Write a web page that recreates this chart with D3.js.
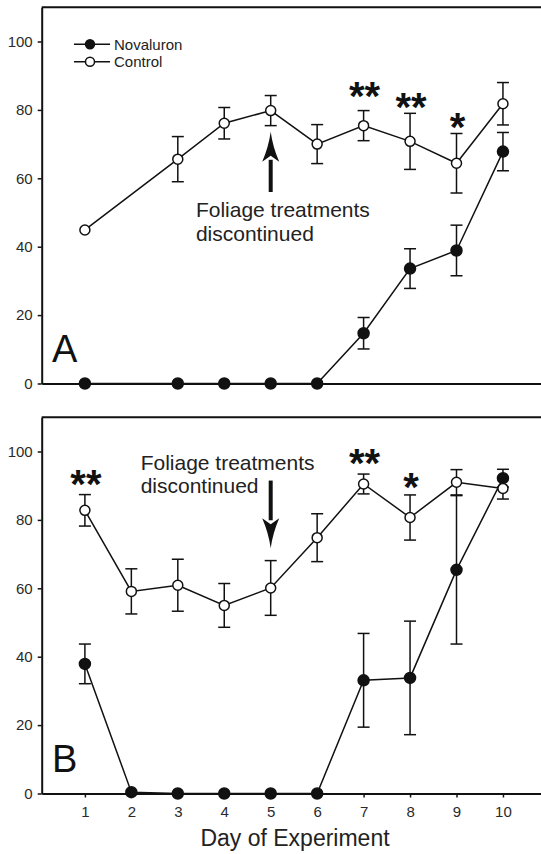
<!DOCTYPE html>
<html>
<head>
<meta charset="utf-8">
<script src="https://cdn.jsdelivr.net/npm/d3@7"></script>
<style>
  html, body { margin: 0; padding: 0; background: #fff; }
  svg { display: block; font-family: "Liberation Sans", Arial, sans-serif; }
</style>
</head>
<body>
<svg id="chart" width="541" height="854"></svg>
<script>
// ---------------- DATA ----------------
const seriesNames = ["Novaluron", "Control"];
const xTickDays = [1, 2, 3, 4, 5, 6, 7, 8, 9, 10];
const yTickValues = [0, 20, 40, 60, 80, 100];

// Panel A
const daysA = [1, 3, 4, 5, 6, 7, 8, 9, 10];
const novaluronA = [0, 0, 0, 0, 0, 14.7, 33.6, 38.9, 67.8];
const novaluronErrA = [0, 0, 0, 0, 0, 4.6, 5.8, 7.4, 5.6];
const controlA = [44.9, 65.6, 76.1, 79.8, 70.0, 75.4, 70.8, 64.4, 81.8];
const controlErrA = [0, 6.6, 4.6, 4.4, 5.7, 4.4, 8.2, 8.7, 6.2];

// Panel B
const daysB = [1, 2, 3, 4, 5, 6, 7, 8, 9, 10];
const novaluronB = [37.9, 0.4, 0, 0, 0, 0, 33.1, 33.8, 65.4, 92.2];
const novaluronErrB = [5.8, 0, 0, 0, 0, 0, 13.7, 16.6, 21.7, 2.6];
const controlB = [82.8, 59.1, 60.9, 55.0, 60.1, 74.8, 90.5, 80.7, 91.0, 89.2];
const controlErrB = [4.6, 6.6, 7.6, 6.4, 8.0, 7.0, 2.9, 6.6, 3.7, 3.1];

// Significance marks (day, value at centre of mark)
const starsA = [{ day: 7, v: 85.8, t: "**" }, { day: 8, v: 82.7, t: "**" }, { day: 9, v: 76.9, t: "*" }];
const starsB = [{ day: 1, v: 92.2, t: "**" }, { day: 7, v: 98.5, t: "**" }, { day: 8, v: 91.4, t: "*" }];

// Annotation text / arrow (in data units)
const noteLines = ["Foliage treatments", "discontinued"];
const noteA = { day: 3.39, v: [48.6, 41.8] };
const noteB = { day: 2.2, v: [94.6, 87.8] };
const arrowA = { day: 5, from: 56.0, to: 73.6 };
const arrowB = { day: 5, from: 91.5, to: 71.7 };

// ---------------- LAYOUT ----------------
const svg = d3.select("#chart");
const left = 41.7, right = 549.4;
const x = d3.scaleLinear().domain([0.07, 11]).range([left, right]);

const panels = [
  { label: "A", top: 7.3, bottom: 383.5, days: daysA, nov: novaluronA, novE: novaluronErrA, ctl: controlA, ctlE: controlErrA,
    stars: starsA, note: noteA, arrow: arrowA, xTicks: false, legend: true },
  { label: "B", top: 417.3, bottom: 793.5, days: daysB, nov: novaluronB, novE: novaluronErrB, ctl: controlB, ctlE: controlErrB,
    stars: starsB, note: noteB, arrow: arrowB, xTicks: true, legend: false }
];

const ink = "#111";

panels.forEach(p => {
  const y = d3.scaleLinear().domain([0, 110]).range([p.bottom, p.top]);
  const g = svg.append("g");

  // top frame
  g.append("line").attr("x1", left).attr("x2", right).attr("y1", p.top).attr("y2", p.top)
    .attr("stroke", ink).attr("stroke-width", 2);

  // y axis
  const ya = g.append("g").attr("transform", `translate(${left},0)`)
    .call(d3.axisLeft(y).tickValues(yTickValues).tickSize(4).tickSizeOuter(0).tickPadding(5));
  ya.select(".domain").attr("stroke", ink).attr("stroke-width", 2);
  ya.selectAll(".tick line").attr("stroke", ink).attr("stroke-width", 1.5);
  ya.selectAll(".tick text").attr("font-size", 15).attr("fill", "#2a2a2a")
    .attr("font-family", "'Liberation Sans', Arial, sans-serif");

  // x axis
  const xa = g.append("g").attr("transform", `translate(0,${p.bottom})`)
    .call(d3.axisBottom(x).tickValues(p.xTicks ? xTickDays : []).tickSize(4).tickSizeOuter(0).tickPadding(9));
  xa.select(".domain").attr("stroke", ink).attr("stroke-width", 2);
  xa.selectAll(".tick line").attr("stroke", ink).attr("stroke-width", 1.5);
  xa.selectAll(".tick text").attr("font-size", 15).attr("fill", "#2a2a2a")
    .attr("font-family", "'Liberation Sans', Arial, sans-serif");

  const line = d3.line().x(d => x(d.day)).y(d => y(d.v));
  const nov = p.days.map((d, i) => ({ day: d, v: p.nov[i], e: p.novE[i] }));
  const ctl = p.days.map((d, i) => ({ day: d, v: p.ctl[i], e: p.ctlE[i] }));

  function drawSeries(data, filled) {
    const s = g.append("g");
    s.append("path").datum(data).attr("d", line).attr("fill", "none").attr("stroke", ink).attr("stroke-width", 1.5);
    const eb = s.selectAll(".eb").data(data.filter(d => d.e > 0)).join("g");
    eb.append("line").attr("x1", d => x(d.day)).attr("x2", d => x(d.day))
      .attr("y1", d => y(d.v - d.e)).attr("y2", d => y(d.v + d.e)).attr("stroke", ink).attr("stroke-width", 1.5);
    [-1, 1].forEach(sg => {
      eb.append("line").attr("x1", d => x(d.day) - 6).attr("x2", d => x(d.day) + 6)
        .attr("y1", d => y(d.v + sg * d.e)).attr("y2", d => y(d.v + sg * d.e)).attr("stroke", ink).attr("stroke-width", 1.5);
    });
    s.selectAll("circle").data(data).join("circle")
      .attr("cx", d => x(d.day)).attr("cy", d => y(d.v))
      .attr("r", filled ? 5.5 : 5)
      .attr("fill", filled ? ink : "#fff").attr("stroke", ink).attr("stroke-width", 1.5);
  }
  drawSeries(nov, true);
  drawSeries(ctl, false);

  // significance stars
  const starSize = 40;
  g.selectAll(".star").data(p.stars).join("text")
    .attr("x", d => x(d.day) + 1).attr("y", d => y(d.v) + starSize * 0.5)
    .attr("text-anchor", "middle").attr("font-size", starSize).attr("font-weight", "bold")
    .attr("fill", ink).text(d => d.t);

  // annotation text
  g.selectAll(".note").data(noteLines).join("text")
    .attr("x", x(p.note.day)).attr("y", (d, i) => y(p.note.v[i]))
    .attr("font-size", 21).attr("fill", "#222").text(d => d);

  // arrow
  const ax = x(p.arrow.day);
  const yFrom = y(p.arrow.from), yTo = y(p.arrow.to);
  const dir = Math.sign(yTo - yFrom);
  const headLen = 30, headHalf = 8.5;
  const yBase = yTo - dir * headLen;
  g.append("line").attr("x1", ax).attr("x2", ax).attr("y1", yFrom).attr("y2", yBase + dir * 2)
    .attr("stroke", ink).attr("stroke-width", 4);
  g.append("path")
    .attr("d", `M${ax},${yTo} Q${ax + 2},${yTo - dir * headLen * 0.5} ${ax + headHalf},${yBase} L${ax},${yBase + dir * 6} L${ax - headHalf},${yBase} Q${ax - 2},${yTo - dir * headLen * 0.5} ${ax},${yTo} Z`)
    .attr("fill", ink);

  // panel label
  g.append("text").attr("x", 52).attr("y", y(0) - 22).attr("font-size", 38).attr("fill", ink).text(p.label);

  // legend
  if (p.legend) {
    const lg = g.append("g");
    const rows = [{ name: seriesNames[0], filled: true, yy: 44.3 }, { name: seriesNames[1], filled: false, yy: 61.7 }];
    rows.forEach(r => {
      lg.append("line").attr("x1", 74).attr("x2", 110).attr("y1", r.yy).attr("y2", r.yy).attr("stroke", ink).attr("stroke-width", 1.5);
      lg.append("circle").attr("cx", 90).attr("cy", r.yy).attr("r", 4.5)
        .attr("fill", r.filled ? ink : "#fff").attr("stroke", ink).attr("stroke-width", 1.5);
      lg.append("text").attr("x", 114).attr("y", r.yy + 5.3).attr("font-size", 15).attr("fill", "#222").text(r.name);
    });
  }
});

// x-axis title
svg.append("text").attr("x", 295).attr("y", 846).attr("text-anchor", "middle")
  .attr("font-size", 23).attr("fill", "#222").text("Day of Experiment");
</script>
</body>
</html>
